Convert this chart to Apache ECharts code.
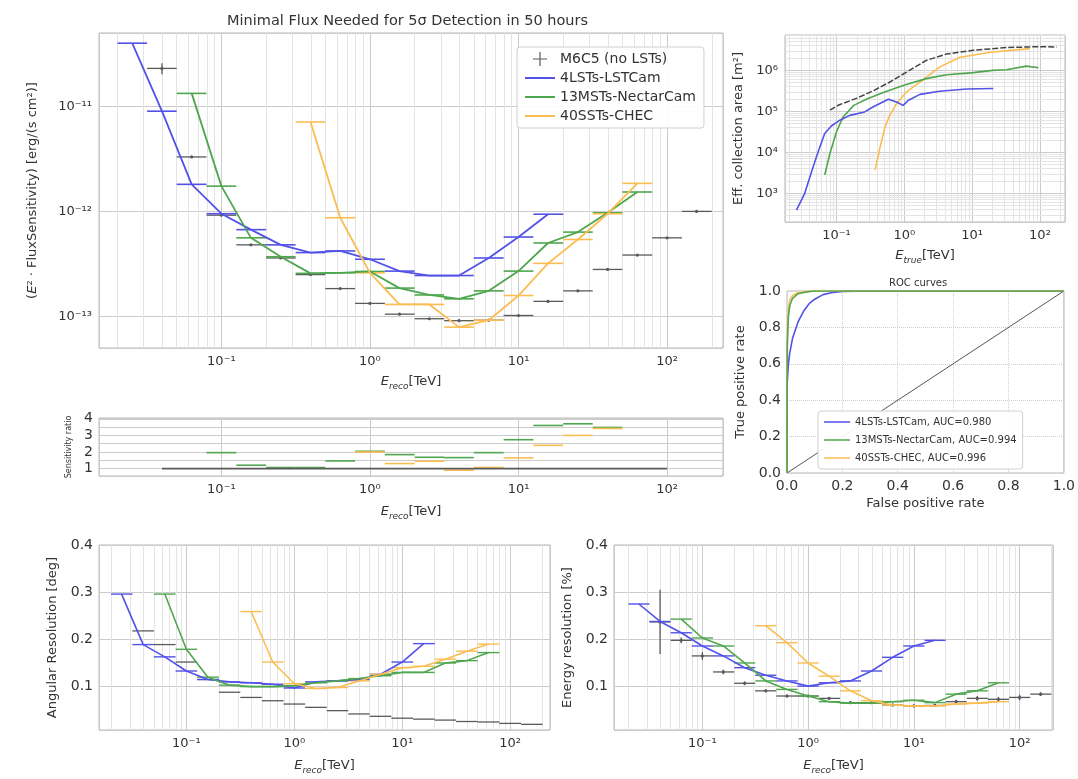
<!DOCTYPE html>
<html><head><meta charset="utf-8">
<script src="https://cdn.jsdelivr.net/npm/echarts@6/dist/echarts.min.js"></script>
<style>html,body{margin:0;padding:0;background:#fff}#c{width:1078px;height:779px}</style>
</head><body><div id="c"></div>
<script>
// ---------------- DATA ----------------
const binLo     = [0.02, 0.0316, 0.05, 0.0794, 0.126, 0.2, 0.316, 0.5, 0.794, 1.26, 2, 3.16, 5, 7.94, 12.6, 20, 31.6, 50, 79.4, 126];
const binHi     = [0.0316, 0.05, 0.0794, 0.126, 0.2, 0.316, 0.5, 0.794, 1.26, 2, 3.16, 5, 7.94, 12.6, 20, 31.6, 50, 79.4, 126, 200];
const binCenter = [0.0251, 0.0398, 0.0631, 0.1, 0.158, 0.251, 0.398, 0.631, 1.0, 1.58, 2.51, 3.98, 6.31, 10, 15.8, 25.1, 39.8, 63.1, 100, 158];

// Sensitivity  (E^2 * flux) [erg / s cm^2]
const sensLST  = [4.0e-11, 9.0e-12, 1.81e-12, 9.5e-13, 6.7e-13, 4.8e-13, 4.05e-13, 4.2e-13, 3.5e-13, 2.7e-13, 2.45e-13, 2.45e-13, 3.6e-13, 5.7e-13, 9.4e-13, null, null, null, null, null];
const sensMST  = [null, null, 1.33e-11, 1.74e-12, 5.6e-13, 3.7e-13, 2.57e-13, 2.6e-13, 2.68e-13, 1.86e-13, 1.6e-13, 1.47e-13, 1.75e-13, 2.7e-13, 5.0e-13, 6.35e-13, 9.7e-13, 1.53e-12, null, null];
const sensSST  = [null, null, null, null, null, null, 7.1e-12, 8.7e-13, 2.6e-13, 1.3e-13, 1.3e-13, 7.9e-14, 9.2e-14, 1.58e-13, 3.2e-13, 5.4e-13, 9.5e-13, 1.85e-12, null, null];
const sensM6C5 = [null, 2.3e-11, 3.3e-12, 9.2e-13, 4.8e-13, 3.6e-13, 2.5e-13, 1.84e-13, 1.33e-13, 1.05e-13, 9.5e-14, 9.1e-14, 9.2e-14, 1.02e-13, 1.39e-13, 1.75e-13, 2.8e-13, 3.84e-13, 5.6e-13, 1.0e-12];
const sensM6C5Err = [null, 2.8e-12, null, null, null, null, null, null, null, null, null, null, null, null, null, null, null, null, null, null];

// Sensitivity ratio
const ratioMST  = [null, null, null, 1.96, 1.2, 1.06, 1.06, 1.46, 2.04, 1.84, 1.68, 1.66, 1.96, 2.74, 3.6, 3.7, 3.48, null, null, null];
const ratioSST  = [null, null, null, null, null, null, null, null, 2.0, 1.3, 1.44, 0.9, 1.06, 1.64, 2.4, 3.0, 3.42, null, null, null];
const ratioM6C5 = [null, 1, 1, 1, 1, 1, 1, 1, 1, 1, 1, 1, 1, 1, 1, 1, 1, 1, 1, null];

// Effective area [m^2]
const effLST_E  = [0.0257, 0.034, 0.043, 0.053, 0.067, 0.084, 0.112, 0.157, 0.26, 0.35, 0.58, 0.77, 0.96, 1.15, 1.7, 3.3, 8.3, 20.5];
const effLST_A  = [390, 1000, 3400, 9800, 2.9e4, 4.4e4, 6.1e4, 8.0e4, 9.7e4, 1.3e5, 1.97e5, 1.7e5, 1.4e5, 1.87e5, 2.6e5, 3.1e5, 3.5e5, 3.6e5];
const effMST_E  = [0.067, 0.08, 0.1, 0.125, 0.18, 0.28, 0.49, 0.96, 2.1, 4.2, 10.4, 20, 32, 63, 95];
const effMST_A  = [2800, 9400, 3.2e4, 7.3e4, 1.4e5, 2.0e5, 2.9e5, 4.3e5, 6.3e5, 7.8e5, 8.8e5, 1.0e6, 1.04e6, 1.27e6, 1.16e6];
const effSST_E  = [0.37, 0.44, 0.52, 0.61, 0.77, 1.08, 1.7, 3.3, 6.6, 20, 71];
const effSST_A  = [3700, 1.35e4, 4.2e4, 8.0e4, 1.55e5, 3.0e5, 5.2e5, 1.2e6, 2.1e6, 2.8e6, 3.4e6];
const effM6C5_E = [0.08, 0.11, 0.2, 0.35, 0.61, 1.08, 2.1, 4.2, 10.4, 32, 100, 176];
const effM6C5_A = [1.07e5, 1.45e5, 2.1e5, 3.2e5, 5.2e5, 9.1e5, 1.75e6, 2.5e6, 3.1e6, 3.6e6, 3.8e6, 3.7e6];

// ROC curves
const rocLST_fpr = [0, 0.001, 0.005, 0.01, 0.02, 0.04, 0.06, 0.08, 0.1, 0.13, 0.16, 0.2, 0.3, 1];
const rocLST_tpr = [0, 0.5, 0.6, 0.66, 0.74, 0.83, 0.89, 0.93, 0.955, 0.98, 0.99, 0.998, 1, 1];
const rocMST_fpr = [0, 0.001, 0.005, 0.01, 0.02, 0.04, 0.07, 0.1, 1];
const rocMST_tpr = [0, 0.7, 0.86, 0.92, 0.96, 0.985, 0.995, 1, 1];
const rocSST_fpr = [0, 0.001, 0.005, 0.01, 0.02, 0.04, 0.07, 0.1, 1];
const rocSST_tpr = [0, 0.75, 0.9, 0.95, 0.975, 0.99, 0.998, 1, 1];
const rocDiag    = [0, 1];

// Angular resolution [deg]
const angLST  = [0.296, 0.189, 0.163, 0.133, 0.115, 0.11, 0.108, 0.105, 0.097, 0.11, 0.112, 0.115, 0.126, 0.152, 0.191, null, null, null, null, null];
const angMST  = [null, null, 0.296, 0.179, 0.12, 0.103, 0.1, 0.1, 0.102, 0.108, 0.112, 0.117, 0.123, 0.13, 0.13, 0.15, 0.155, 0.172, null, null];
const angSST  = [null, null, null, null, null, null, 0.259, 0.152, 0.106, 0.096, 0.098, 0.112, 0.126, 0.14, 0.143, 0.158, 0.175, 0.19, null, null];
const angM6C5 = [null, 0.218, 0.189, 0.152, 0.115, 0.088, 0.077, 0.07, 0.063, 0.056, 0.049, 0.042, 0.037, 0.033, 0.031, 0.029, 0.026, 0.025, 0.022, 0.02];

// Energy resolution
const eresLST  = [0.275, 0.238, 0.214, 0.186, 0.165, 0.14, 0.124, 0.112, 0.101, 0.108, 0.112, 0.133, 0.162, 0.186, 0.198, null, null, null, null, null];
const eresMST  = [null, null, 0.243, 0.203, 0.186, 0.15, 0.112, 0.094, 0.08, 0.068, 0.065, 0.065, 0.068, 0.071, 0.066, 0.084, 0.091, 0.108, null, null];
const eresSST  = [null, null, null, null, null, null, 0.229, 0.193, 0.15, 0.122, 0.091, 0.07, 0.061, 0.059, 0.059, 0.063, 0.065, 0.068, null, null];
const eresM6C5 = [null, 0.237, 0.198, 0.165, 0.131, 0.107, 0.091, 0.08, 0.08, 0.075, 0.066, 0.066, 0.061, 0.059, 0.06, 0.068, 0.075, 0.073, 0.077, 0.084];
const eresM6C5Err = [null, 0.068, 0.006, 0.008, 0.005, 0.004, 0.003, 0.003, 0.003, 0.003, 0.003, 0.003, 0.003, 0.003, 0.003, 0.004, 0.005, 0.005, 0.006, 0.004];

const NAME = {lst: '4LSTs-LSTCam', mst: '13MSTs-NectarCam', sst: '40SSTs-CHEC', ref: 'M6C5 (no LSTs)'};
const ROCNAME = {lst: '4LSTs-LSTCam, AUC=0.980', mst: '13MSTs-NectarCam, AUC=0.994', sst: '40SSTs-CHEC, AUC=0.996'};

// ---------------- STYLE ----------------
const COL = {lst: '#5252e8', mst: '#4fa64f', sst: '#fbbd52', ref: '#5a5a5a'};
const FONT = 'DejaVu Sans';
const MAJ = '#cbcbcb', MIN = '#e4e4e4';

const SUP = {'-': '⁻', '0': '⁰', '1': '¹', '2': '²', '3': '³', '4': '⁴', '5': '⁵', '6': '⁶', '7': '⁷', '8': '⁸', '9': '⁹'};
function powLabel(v) {
  const e = Math.log10(v), r = Math.round(e);
  if (Math.abs(e - r) > 1e-6) return '';
  return '10' + String(r).split('').map(c => SUP[c]).join('');
}
function minorVals(min, max) {
  const out = [];
  for (let k = Math.floor(Math.log10(min)) - 1; k <= Math.ceil(Math.log10(max)); k++)
    for (let m = 2; m <= 9; m++) { const v = m * Math.pow(10, k); if (v > min * 1.001 && v < max * 0.999) out.push(v); }
  return out;
}
const richE = (sz) => ({
  i: {fontStyle: 'italic', fontSize: sz, fontFamily: FONT, color: '#333'},
  s: {fontStyle: 'italic', fontSize: Math.round(sz * 0.68), fontFamily: FONT, color: '#333', padding: [9, 0, 0, 0]},
  n: {fontSize: sz, fontFamily: FONT, color: '#333'}
});

// ---------------- GRIDS ----------------
const grids = [
  {left: 99, top: 33, width: 624, height: 315},   // 0 sensitivity
  {left: 99, top: 418, width: 624, height: 58},   // 1 ratio
  {left: 785, top: 35, width: 280, height: 187},  // 2 eff area
  {left: 787, top: 291, width: 278, height: 182}, // 3 ROC
  {left: 99, top: 545, width: 451, height: 185},  // 4 angular
  {left: 614, top: 545, width: 439, height: 185}  // 5 energy res
].map(g => Object.assign(g, {show: true, borderColor: '#b8b8b8', borderWidth: 1, backgroundColor: '#fff'}));

function logAxis(gi, min, max, extra) {
  return Object.assign({
    type: 'log', logBase: 10, gridIndex: gi, min, max,
    axisLine: {show: false}, axisTick: {show: false},
    axisLabel: {formatter: powLabel, fontSize: 13, color: '#333', fontFamily: FONT, margin: 7},
    splitLine: {show: true, lineStyle: {color: MAJ, width: 1}},
    nameLocation: 'middle'
  }, extra || {});
}
function valAxis(gi, min, max, fmt, extra) {
  return Object.assign({
    type: 'value', gridIndex: gi, min, max,
    axisLine: {show: false}, axisTick: {show: false},
    axisLabel: {formatter: fmt, fontSize: 14, color: '#333', fontFamily: FONT, margin: 6},
    splitLine: {show: true, lineStyle: {color: MAJ, width: 1}},
    nameLocation: 'middle'
  }, extra || {});
}
const tenthFmt = v => (v > 0.05 && Math.abs(v * 10 - Math.round(v * 10)) < 1e-6) ? v.toFixed(1) : '';
const intFmt = v => (v > 0.9 && Math.abs(v - Math.round(v)) < 1e-6) ? String(Math.round(v)) : '';

const xAxes = [
  logAxis(0, 0.015, 238, {name: '{i|E}{s|reco}{n|[TeV]}', nameGap: 25, nameTextStyle: {rich: richE(13)}}),
  logAxis(1, 0.015, 238, {name: '{i|E}{s|reco}{n|[TeV]}', nameGap: 27, nameTextStyle: {rich: richE(13)}}),
  logAxis(2, 0.0174, 234, {name: '{i|E}{s|true}{n|[TeV]}', nameGap: 25, nameTextStyle: {rich: richE(13)}}),
  valAxis(3, 0, 1, v => v.toFixed(1), {interval: 0.2, name: 'False positive rate', nameGap: 24, nameTextStyle: {fontSize: 13, color: '#333', fontFamily: FONT},
    splitLine: {show: true, lineStyle: {color: '#d0d0d0', type: 'dotted'}}}),
  logAxis(4, 0.0155, 234, {name: '{i|E}{s|reco}{n|[TeV]}', nameGap: 27, nameTextStyle: {rich: richE(13)}}),
  logAxis(5, 0.0146, 207, {name: '{i|E}{s|reco}{n|[TeV]}', nameGap: 27, nameTextStyle: {rich: richE(13)}})
];
const yAxes = [
  logAxis(0, 5e-14, 5e-11, {name: '{p|(}{i|E}{p|² · FluxSensitivity) [erg/(s cm²)]}', nameGap: 60,
    nameTextStyle: {rich: {p: {fontSize: 13, color: '#333', fontFamily: FONT}, i: {fontSize: 13, fontStyle: 'italic', color: '#333', fontFamily: FONT}}}}),
  valAxis(1, 0.55, 4.05, intFmt, {name: 'Sensitivity ratio', nameGap: 24, nameTextStyle: {fontSize: 8, color: '#333', fontFamily: FONT},
    axisLabel: {formatter: intFmt, fontSize: 14, color: '#333', fontFamily: FONT, margin: 6}}),
  logAxis(2, 200, 7.3e6, {name: 'Eff. collection area [m²]', nameGap: 40, nameTextStyle: {fontSize: 13, color: '#333', fontFamily: FONT}}),
  valAxis(3, 0, 1, v => v.toFixed(1), {interval: 0.2, name: 'True positive rate', nameGap: 40, nameTextStyle: {fontSize: 13, color: '#333', fontFamily: FONT},
    splitLine: {show: true, lineStyle: {color: '#d0d0d0', type: 'dotted'}}}),
  valAxis(4, 0.008, 0.4, tenthFmt, {name: 'Angular Resolution [deg]', nameGap: 40, nameTextStyle: {fontSize: 13, color: '#333', fontFamily: FONT}}),
  valAxis(5, 0.008, 0.4, tenthFmt, {name: 'Energy resolution [%]', nameGap: 40, nameTextStyle: {fontSize: 13, color: '#333', fontFamily: FONT}})
];

// ---------------- SERIES HELPERS ----------------
function rows(vals, err) {
  const out = [];
  vals.forEach((v, i) => {
    if (v == null) return;
    const e = err ? err[i] : null;
    out.push([binCenter[i], v, binLo[i], binHi[i], e != null ? v - e : 0, e != null ? v + e : 0]);
  });
  return out;
}
function errSeries(gi, name, color, vals, err, opts) {
  opts = opts || {};
  const lw = opts.lw || 1.4;
  return {
    type: 'custom', name, xAxisIndex: gi, yAxisIndex: gi, silent: true, z: 6,
    itemStyle: {color},
    dimensions: ['x', 'y', 'lo', 'hi', 'elo', 'ehi'],
    encode: {x: 0, y: 1},
    data: rows(vals, err),
    renderItem: function (params, api) {
      const y = api.value(1);
      const a = api.coord([api.value(2), y]), b = api.coord([api.value(3), y]);
      const st = {stroke: color, lineWidth: lw};
      const ch = [{type: 'line', shape: {x1: a[0], y1: a[1], x2: b[0], y2: b[1]}, style: st}];
      const elo = api.value(4), ehi = api.value(5);
      if (elo && ehi) {
        const c = api.coord([api.value(0), elo]), d = api.coord([api.value(0), ehi]);
        ch.push({type: 'line', shape: {x1: c[0], y1: c[1], x2: d[0], y2: d[1]}, style: st});
      }
      if (opts.dot) {
        const p = api.coord([api.value(0), y]);
        ch.push({type: 'circle', shape: {cx: p[0], cy: p[1], r: 1.6}, style: {fill: color}});
      }
      return {type: 'group', children: ch};
    }
  };
}
function binLine(gi, name, color, vals, lw) {
  const d = [];
  vals.forEach((v, i) => { if (v != null) d.push([binCenter[i], v]); });
  return {type: 'line', name, xAxisIndex: gi, yAxisIndex: gi, data: d, symbol: 'none', silent: true, z: 7,
    itemStyle: {color}, lineStyle: {color, width: lw || 1.8}};
}
function xyLine(gi, name, color, xs, ys, extra) {
  return Object.assign({type: 'line', name, xAxisIndex: gi, yAxisIndex: gi, data: xs.map((x, i) => [x, ys[i]]),
    symbol: 'none', silent: true, z: 7, itemStyle: {color}, lineStyle: {color, width: 1.6}}, extra || {});
}
function gridLines(gi, anchor, xs, ys) {
  return {
    type: 'line', name: '', xAxisIndex: gi, yAxisIndex: gi, data: [anchor], symbol: 'none', silent: true, z: 1,
    lineStyle: {opacity: 0},
    markLine: {z: 1, silent: true, symbol: ['none', 'none'], label: {show: false}, animation: false,
      lineStyle: {color: MIN, width: 1, type: 'solid'}, emphasis: {disabled: true},
      data: xs.map(v => ({xAxis: v})).concat(ys.map(v => ({yAxis: v})))}
  };
}

// ---------------- SERIES ----------------
const series = [
  binLine(0, NAME.lst, COL.lst, sensLST),
  binLine(0, NAME.mst, COL.mst, sensMST),
  binLine(0, NAME.sst, COL.sst, sensSST),
  errSeries(0, NAME.ref, COL.ref, sensM6C5, sensM6C5Err, {dot: true, lw: 1.3}),
  errSeries(0, NAME.lst, COL.lst, sensLST, null, {lw: 1.6}),
  errSeries(0, NAME.mst, COL.mst, sensMST, null, {lw: 1.6}),
  errSeries(0, NAME.sst, COL.sst, sensSST, null, {lw: 1.6}),
  gridLines(0, [1, 1e-12], minorVals(0.015, 238), minorVals(5e-14, 5e-11)),

  binLine(1, 'ratio ref', COL.ref, ratioM6C5, 1.8),
  errSeries(1, 'ratio MST', COL.mst, ratioMST, null, {lw: 1.6}),
  errSeries(1, 'ratio SST', COL.sst, ratioSST, null, {lw: 1.6}),

  xyLine(2, NAME.ref, '#444', effM6C5_E, effM6C5_A, {lineStyle: {color: '#444', width: 1.5, type: [6, 2]}}),
  xyLine(2, NAME.sst, COL.sst, effSST_E, effSST_A),
  xyLine(2, NAME.mst, COL.mst, effMST_E, effMST_A),
  xyLine(2, NAME.lst, COL.lst, effLST_E, effLST_A),
  gridLines(2, [1, 1e5], minorVals(0.0174, 234), minorVals(200, 7.3e6)),

  xyLine(3, 'diag', '#555', rocDiag, rocDiag, {lineStyle: {color: '#555', width: 1}, z: 2}),
  xyLine(3, ROCNAME.lst, COL.lst, rocLST_fpr, rocLST_tpr),
  xyLine(3, ROCNAME.sst, COL.sst, rocSST_fpr, rocSST_tpr),
  xyLine(3, ROCNAME.mst, COL.mst, rocMST_fpr, rocMST_tpr),

  errSeries(4, NAME.ref, COL.ref, angM6C5, null, {lw: 1.3}),
  binLine(4, NAME.lst, COL.lst, angLST, 1.6),
  binLine(4, NAME.mst, COL.mst, angMST, 1.6),
  binLine(4, NAME.sst, COL.sst, angSST, 1.6),
  errSeries(4, NAME.lst, COL.lst, angLST, null),
  errSeries(4, NAME.mst, COL.mst, angMST, null),
  errSeries(4, NAME.sst, COL.sst, angSST, null),
  gridLines(4, [1, 0.2], minorVals(0.0155, 234), []),

  errSeries(5, NAME.ref, COL.ref, eresM6C5, eresM6C5Err, {lw: 1.3, dot: true}),
  binLine(5, NAME.lst, COL.lst, eresLST, 1.6),
  binLine(5, NAME.mst, COL.mst, eresMST, 1.6),
  binLine(5, NAME.sst, COL.sst, eresSST, 1.6),
  errSeries(5, NAME.lst, COL.lst, eresLST, null),
  errSeries(5, NAME.mst, COL.mst, eresMST, null),
  errSeries(5, NAME.sst, COL.sst, eresSST, null),
  gridLines(5, [1, 0.2], minorVals(0.0146, 207), [])
];

// legend icons (tiny corner specks fix the bounding box so the line keeps its thickness)
const PLUS = 'path://M6.4,0H7.6V6.4H14V7.6H7.6V14H6.4V7.6H0V6.4H6.4Z';
const LINE_MAIN = 'path://M0,0H0.01V0.01H0Z M0,6.1H30V7.9H0Z M29.99,13.99H30V14H29.99Z';
const LINE_ROC = 'path://M0,0H0.01V0.01H0Z M0,5.2H26V6.8H0Z M25.99,11.99H26V12H25.99Z';

const option = {
  animation: false,
  backgroundColor: '#fff',
  textStyle: {fontFamily: FONT},
  title: [
    {text: 'Minimal Flux Needed for 5σ Detection in 50 hours', left: 227, top: 14, padding: 0,
      textStyle: {fontSize: 14.5, fontWeight: 'normal', color: '#333', fontFamily: FONT}},
    {text: 'ROC curves', left: 889, top: 278, padding: 0,
      textStyle: {fontSize: 10, fontWeight: 'normal', color: '#333', fontFamily: FONT}}
  ],
  legend: [
    {left: 517, top: 47, orient: 'vertical', itemGap: 5, itemWidth: 30, itemHeight: 14, z: 20,
      data: [{name: NAME.ref, icon: PLUS}, {name: NAME.lst, icon: LINE_MAIN}, {name: NAME.mst, icon: LINE_MAIN}, {name: NAME.sst, icon: LINE_MAIN}],
      textStyle: {fontSize: 14, color: '#333', fontFamily: FONT},
      backgroundColor: 'rgba(255,255,255,0.92)', borderColor: '#d0d0d0', borderWidth: 1, borderRadius: 3,
      padding: [5, 8, 5, 8], selectedMode: false},
    {left: 818, top: 411, orient: 'vertical', itemGap: 6, itemWidth: 26, itemHeight: 12, z: 20,
      data: [{name: ROCNAME.lst, icon: LINE_ROC}, {name: ROCNAME.mst, icon: LINE_ROC}, {name: ROCNAME.sst, icon: LINE_ROC}],
      textStyle: {fontSize: 10, color: '#333', fontFamily: FONT},
      backgroundColor: 'rgba(255,255,255,0.92)', borderColor: '#d0d0d0', borderWidth: 1, borderRadius: 3,
      padding: [5, 6, 5, 6], selectedMode: false}
  ],
  grid: grids,
  xAxis: xAxes,
  yAxis: yAxes,
  series: series
};

const chart = echarts.init(document.getElementById('c'), null, {renderer: 'canvas'});
chart.setOption(option);
</script></body></html>
